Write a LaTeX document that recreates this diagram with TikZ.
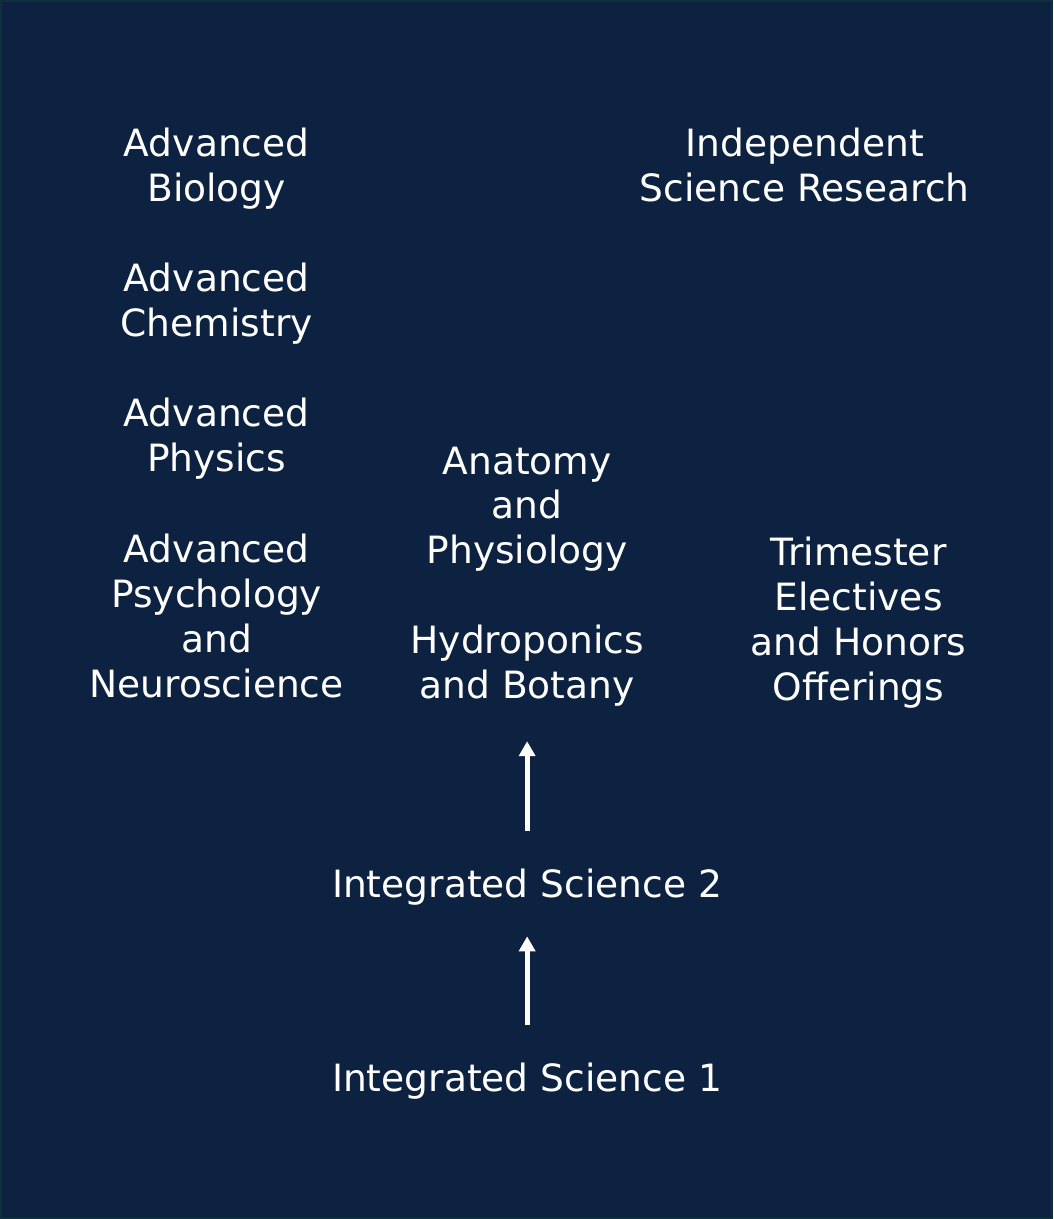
\documentclass[tikz,border=0pt]{standalone}
\usepackage{fontspec}
\setmainfont{DejaVu Sans}
\usepackage{xcolor}
\usetikzlibrary{positioning,arrows.meta}
\definecolor{navy}{RGB}{13,34,64}
\definecolor{edge}{RGB}{14,48,60}
\tikzset{
  crs/.style={text=white, align=center, inner sep=0pt, font=\fontsize{10.7pt}{12.8pt}\selectfont},
  arr/.style={-{Triangle[length=1.5mm, width=1.6mm]}, white, line width=1.4pt},
}
\begin{document}
\begin{tikzpicture}[x=0.01cm, y=-0.01cm]
\useasboundingbox[fill=navy, draw=edge, line width=0.6pt] (0,0) rectangle (1053,1219);
% advanced column
\node[crs] (bio) at (216,168) {Advanced\\Biology};
\node[crs] (chem) at (216,303) {Advanced\\Chemistry};
\node[crs] (phys) at (216,438) {Advanced\\Physics};
\node[crs] (psy) at (216,616) {Advanced\\Psychology\\and\\Neuroscience};
\node[crs] (isr) at (805,164) {Independent\\Science Research};
% middle column
\node[crs] (anat) at (527,509) {Anatomy\\and\\Physiology};
\node[crs] (hydro) at (527,666) {Hydroponics\\and Botany};
\node[crs] (tri) at (859,623) {Trimester\\Electives\\and Honors\\Offerings};
\node[crs] (is2) at (527,888) {Integrated Science 2};
\node[crs] (is1) at (527,1082) {Integrated Science 1};
\draw[arr, shorten <=3.8mm, shorten >=3.4mm] (is2) -- (hydro);
\draw[arr, shorten <=3.7mm, shorten >=3.0mm] (is1) -- (is2);
\end{tikzpicture}
\end{document}
